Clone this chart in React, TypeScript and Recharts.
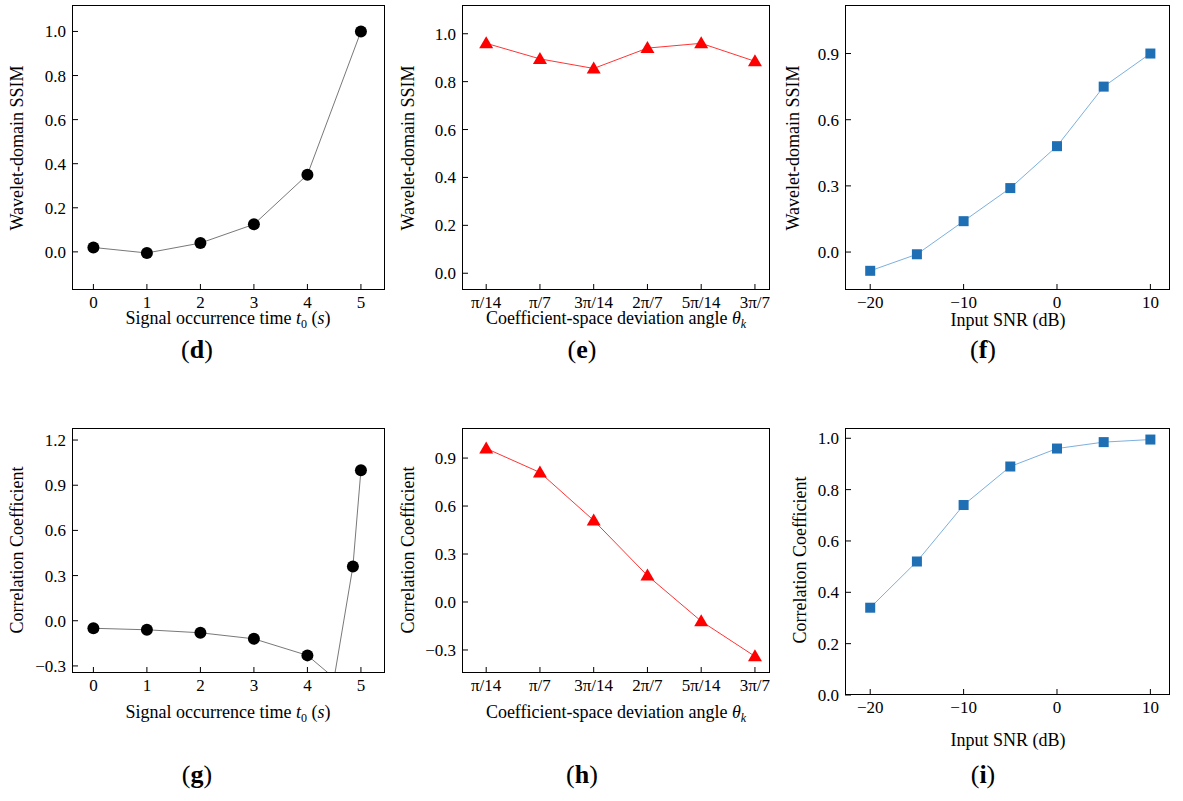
import React from 'react';
import { LineChart, Line, XAxis, YAxis } from 'recharts';

// top row
const timeX = [0, 1, 2, 3, 4, 5];
const ssimTime = [0.02, -0.005, 0.04, 0.125, 0.35, 1.0];
const angleLabels = ['π/14', 'π/7', '3π/14', '2π/7', '5π/14', '3π/7'];
const ssimAngle = [0.96, 0.895, 0.855, 0.94, 0.96, 0.885];
const snrX = [-20, -15, -10, -5, 0, 5, 10];
const ssimSnr = [-0.085, -0.01, 0.14, 0.29, 0.48, 0.75, 0.9];
// bottom row
const timeX2 = [0, 1, 2, 3, 4, 4.5, 4.85, 5];
const corrTime = [-0.05, -0.06, -0.08, -0.12, -0.23, -0.38, 0.36, 1.0];
const corrAngle = [0.96, 0.81, 0.51, 0.165, -0.12, -0.34];
const corrSnr = [0.34, 0.52, 0.74, 0.89, 0.96, 0.985, 0.995];

const FONT = '"Liberation Serif", "Times New Roman", serif';

const toRows = (xs: number[], ys: number[]) => xs.map((x, i) => ({ x, y: ys[i] }));

const Circle = (p: any) => <circle cx={p.cx} cy={p.cy} r={6} fill="#000" />;
const Tri = (p: any) => (
  <polygon points={`${p.cx},${p.cy - 7} ${p.cx - 7},${p.cy + 5} ${p.cx + 7},${p.cy + 5}`} fill="#ff0000" />
);
const Sq = (p: any) => <rect x={p.cx - 5} y={p.cy - 5} width={10} height={10} fill="#1f6fb4" />;

interface PanelProps {
  left: number; top: number; w: number; h: number;
  data: { x: number; y: number }[];
  xDomain: [number, number]; xTicks: number[]; xFmt?: (v: number) => string;
  yDomain: [number, number]; yTicks: number[]; yFmt: (v: number) => string;
  color: string; shape: any;
}

const XTick = (fmt?: (v: number) => string) => (p: any) => (
  <g>
    <line x1={p.x} x2={p.x} y1={p.y} y2={p.y - 6} stroke="#000" />
    <text x={p.x} y={p.y + 18} textAnchor="middle" fontSize={17} fontFamily={FONT} fill="#000">
      {fmt ? fmt(p.payload.value) : String(p.payload.value).replace('-', '−')}
    </text>
  </g>
);

const Panel: React.FC<PanelProps> = (p) => {
  const yw = 60;
  const YTick = (t: any) => (
    <g>
      <line x1={t.x} x2={t.x + 6} y1={t.y} y2={t.y} stroke="#000" />
      <text x={t.x - 6} y={t.y + 6} textAnchor="end" fontSize={17} fontFamily={FONT} fill="#000">
        {p.yFmt(t.payload.value)}
      </text>
    </g>
  );
  return (
    <div style={{ position: 'absolute', left: p.left - yw, top: p.top }}>
      <LineChart width={p.w + yw} height={p.h + 40} data={p.data}
        margin={{ top: 0, right: 0, bottom: 0, left: 0 }}>
        <XAxis dataKey="x" type="number" domain={p.xDomain} ticks={p.xTicks} allowDataOverflow
          tick={XTick(p.xFmt)} tickLine={false} tickSize={0} tickMargin={0} height={40} axisLine={false} />
        <YAxis type="number" domain={p.yDomain} ticks={p.yTicks} allowDataOverflow width={yw}
          tick={YTick} tickLine={false} tickSize={0} tickMargin={0} axisLine={false} />
        <Line dataKey="y" stroke={p.color} strokeWidth={0.8} dot={p.shape} isAnimationActive={false} />
      </LineChart>
      <div style={{ position: 'absolute', left: yw, top: 0, width: p.w, height: p.h,
        border: '1px solid #000', boxSizing: 'border-box', pointerEvents: 'none' }} />
    </div>
  );
};

const f1 = (v: number) => v.toFixed(1).replace('-', '−');

const Txt: React.FC<{ x: number; y: number; rot?: boolean; size?: number; children: any }> = ({ x, y, rot, size = 18, children }) => (
  <div style={{ position: 'absolute', left: x, top: y, transform: `translate(-50%,-50%)${rot ? ' rotate(-90deg)' : ''}`,
    whiteSpace: 'nowrap', fontFamily: FONT, fontSize: size, color: '#000' }}>{children}</div>
);

const timeLabel = <>Signal occurrence time <i>t</i><sub style={{ fontSize: 12 }}>0</sub> (<i>s</i>)</>;
const angleLabel = <>Coefficient-space deviation angle <i>θ</i><sub style={{ fontSize: 12 }}><i>k</i></sub></>;
const letter = (c: string) => <>(<b>{c}</b>)</>;

export default function App() {
  const idx = [0, 1, 2, 3, 4, 5];
  const aFmt = (v: number) => angleLabels[v] ?? '';
  return (
    <div style={{ position: 'absolute', left: 0, top: 0, width: 1183, height: 801, background: '#fff' }}>
      <Panel left={72} top={5} w={313} h={285} data={toRows(timeX, ssimTime)}
        xDomain={[-0.4, 5.45]} xTicks={timeX} yDomain={[-0.173, 1.12]} yTicks={[0, 0.2, 0.4, 0.6, 0.8, 1.0]} yFmt={f1}
        color="#555" shape={Circle} />
      <Panel left={462} top={5} w={308} h={285} data={toRows(idx, ssimAngle)}
        xDomain={[-0.45, 5.28]} xTicks={idx} xFmt={aFmt} yDomain={[-0.07, 1.12]} yTicks={[0, 0.2, 0.4, 0.6, 0.8, 1.0]} yFmt={f1}
        color="#ff0000" shape={Tri} />
      <Panel left={845} top={5} w={325} h={285} data={toRows(snrX, ssimSnr)}
        xDomain={[-22.7, 12.1]} xTicks={[-20, -10, 0, 10]} yDomain={[-0.172, 1.12]} yTicks={[0, 0.3, 0.6, 0.9]} yFmt={f1}
        color="#5b9bd5" shape={Sq} />

      <Panel left={72} top={428} w={313} h={245} data={toRows(timeX2, corrTime)}
        xDomain={[-0.4, 5.45]} xTicks={timeX} yDomain={[-0.347, 1.28]} yTicks={[-0.3, 0, 0.3, 0.6, 0.9, 1.2]} yFmt={f1}
        color="#555" shape={Circle} />
      <Panel left={462} top={428} w={308} h={245} data={toRows(idx, corrAngle)}
        xDomain={[-0.45, 5.28]} xTicks={idx} xFmt={aFmt} yDomain={[-0.444, 1.088]} yTicks={[-0.3, 0, 0.3, 0.6, 0.9]} yFmt={f1}
        color="#ff0000" shape={Tri} />
      <Panel left={845} top={428} w={325} h={267} data={toRows(snrX, corrSnr)}
        xDomain={[-22.7, 12.1]} xTicks={[-20, -10, 0, 10]} yDomain={[0, 1.04]} yTicks={[0, 0.2, 0.4, 0.6, 0.8, 1.0]} yFmt={f1}
        color="#5b9bd5" shape={Sq} />

      <Txt x={17} y={148} rot>Wavelet-domain SSIM</Txt>
      <Txt x={408} y={148} rot>Wavelet-domain SSIM</Txt>
      <Txt x={793} y={148} rot>Wavelet-domain SSIM</Txt>
      <Txt x={17} y={550} rot>Correlation Coefficient</Txt>
      <Txt x={408} y={550} rot>Correlation Coefficient</Txt>
      <Txt x={800} y={560} rot>Correlation Coefficient</Txt>

      <Txt x={228} y={320}>{timeLabel}</Txt>
      <Txt x={616} y={320}>{angleLabel}</Txt>
      <Txt x={1008} y={320}>Input SNR (dB)</Txt>
      <Txt x={228} y={714}>{timeLabel}</Txt>
      <Txt x={616} y={714}>{angleLabel}</Txt>
      <Txt x={1008} y={740}>Input SNR (dB)</Txt>

      <Txt x={197} y={350} size={26}>{letter('d')}</Txt>
      <Txt x={582} y={350} size={26}>{letter('e')}</Txt>
      <Txt x={983} y={350} size={26}>{letter('f')}</Txt>
      <Txt x={197} y={775} size={26}>{letter('g')}</Txt>
      <Txt x={582} y={775} size={26}>{letter('h')}</Txt>
      <Txt x={983} y={775} size={26}>{letter('i')}</Txt>
    </div>
  );
}
